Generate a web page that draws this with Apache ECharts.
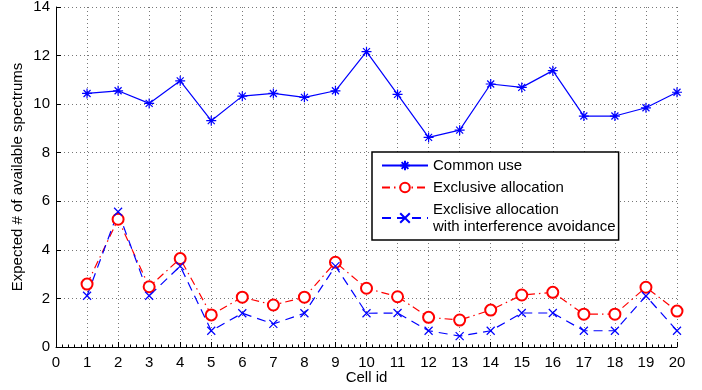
<!DOCTYPE html>
<html>
<head>
<meta charset="utf-8">
<script src="https://cdn.jsdelivr.net/npm/echarts@6/dist/echarts.min.js"></script>
<style>html,body{margin:0;padding:0;background:#fff}#c{width:702px;height:390px}</style>
</head>
<body>
<div id="c"></div>
<script>
var cellIds = [1,2,3,4,5,6,7,8,9,10,11,12,13,14,15,16,17,18,19,20];
var commonUse = [10.44,10.55,10.03,10.96,9.32,10.33,10.44,10.28,10.55,12.16,10.40,8.63,8.93,10.83,10.69,11.38,9.51,9.51,9.85,10.49];
var exclusive = [2.59,5.26,2.48,3.64,1.32,2.05,1.73,2.05,3.49,2.42,2.07,1.22,1.11,1.52,2.14,2.25,1.35,1.35,2.46,1.48];
var exclusiveIA = [2.11,5.57,2.11,3.33,0.67,1.39,0.95,1.39,3.33,1.39,1.40,0.67,0.45,0.67,1.40,1.40,0.67,0.67,2.10,0.67];
var seriesNames = ['Common use','Exclusive allocation','Exclisive allocation\nwith interference avoidance'];

function pairs(vals){ return cellIds.map(function(c,i){ return [c, vals[i]]; }); }

var FONT = '"Liberation Sans", Arial, Helvetica, sans-serif';
var asterisk = 'path://M0,-10L0,10M-10,0L10,0M-7,-7L7,7M-7,7L7,-7';
var cross = 'path://M-10,-10L10,10M-10,10L10,-10';

var chart = echarts.init(document.getElementById('c'), null, {renderer:'canvas'});
chart.setOption({
  animation: false,
  backgroundColor: '#fff',
  textStyle: {fontFamily: FONT},
  grid: {left: 56, right: 25, top: 7, bottom: 43, containLabel: false, outerBoundsMode: 'none'},
  xAxis: {
    type: 'value', min: 0, max: 20, interval: 1,
    name: 'Cell id', nameLocation: 'middle', nameGap: 23, nameMoveOverlap: false,
    nameTextStyle: {fontSize: 15, color: '#000', fontFamily: FONT},
    axisLine: {show: true, onZero: false, lineStyle: {color: '#000', width: 1}},
    axisTick: {show: true, inside: true, length: 5, lineStyle: {color: '#000'}},
    minorTick: {show: true, splitNumber: 5, length: 2.5, lineStyle: {color: '#000'}},
    axisLabel: {fontSize: 15, color: '#000', margin: 8, fontFamily: FONT},
    splitLine: {show: true, lineStyle: {color: '#777', type: [1,3], width: 1}}
  },
  yAxis: {
    type: 'value', min: 0, max: 14, interval: 2,
    name: 'Expected # of available spectrums', nameLocation: 'middle', nameGap: 31, nameMoveOverlap: false,
    nameTextStyle: {fontSize: 15, color: '#000', fontFamily: FONT},
    axisLine: {show: true, onZero: false, lineStyle: {color: '#000', width: 1}},
    axisTick: {show: true, inside: true, length: 5, lineStyle: {color: '#000'}},
    axisLabel: {fontSize: 15, color: '#000', margin: 6, fontFamily: FONT},
    splitLine: {show: true, lineStyle: {color: '#777', type: [1,3], width: 1}}
  },
  legend: {
    orient: 'vertical', left: 372, top: 152,
    data: seriesNames,
    backgroundColor: '#fff', borderColor: '#000', borderWidth: 1.5,
    padding: [5, 3, 5, 9],
    itemWidth: 46, itemHeight: 12, itemGap: 5,
    textStyle: {fontSize: 15, lineHeight: 17, color: '#000', fontFamily: FONT}
  },
  series: [
    {
      name: seriesNames[0], type: 'line', data: pairs(commonUse),
      symbol: asterisk, symbolSize: 10,
      lineStyle: {color: '#0000ff', width: 1.2},
      itemStyle: {color: '#0000ff', borderColor: '#0000ff', borderWidth: 1.2}
    },
    {
      name: seriesNames[1], type: 'line', data: pairs(exclusive),
      symbol: 'emptyCircle', symbolSize: 11,
      lineStyle: {color: '#ff0000', width: 1.2, type: [8,4,1.5,4]},
      itemStyle: {color: '#ff0000', borderColor: '#ff0000', borderWidth: 1.2}
    },
    {
      name: seriesNames[2], type: 'line', data: pairs(exclusiveIA),
      symbol: cross, symbolSize: 8,
      lineStyle: {color: '#0000ff', width: 1.2, type: [9,6]},
      itemStyle: {color: '#0000ff', borderColor: '#0000ff', borderWidth: 1.2}
    }
  ]
});
</script>
</body>
</html>
